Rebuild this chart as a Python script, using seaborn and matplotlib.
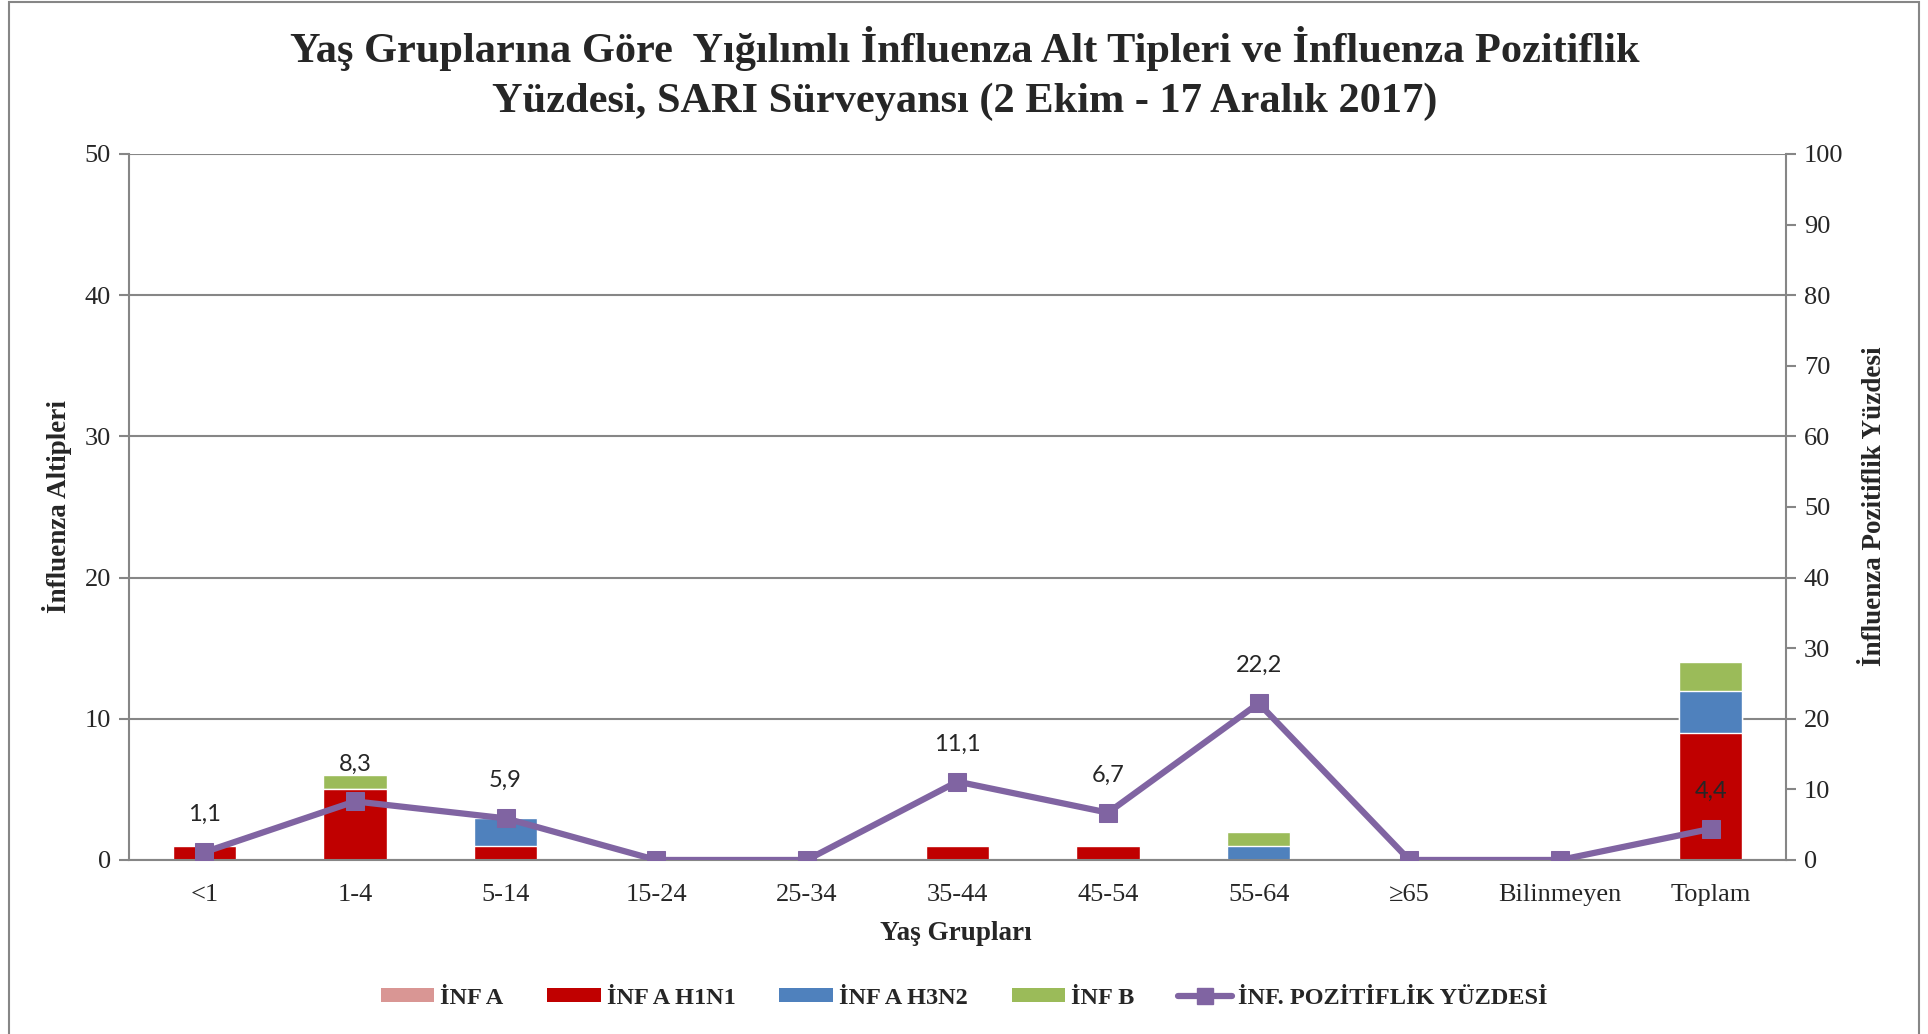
import numpy as np
import matplotlib
matplotlib.use('Agg')
import matplotlib.pyplot as plt
from matplotlib.lines import Line2D
from matplotlib.patches import Patch, Rectangle
import seaborn as sns

# data
groups = ['<1', '1-4', '5-14', '15-24', '25-34', '35-44', '45-54', '55-64', '≥65', 'Bilinmeyen', 'Toplam']
inf_a = [0, 0, 0, 0, 0, 0, 0, 0, 0, 0, 0]
inf_a_h1n1 = [1, 5, 1, 0, 0, 1, 1, 0, 0, 0, 9]
inf_a_h3n2 = [0, 0, 2, 0, 0, 0, 0, 1, 0, 0, 3]
inf_b = [0, 1, 0, 0, 0, 0, 0, 1, 0, 0, 2]
pozitiflik = [1.1, 8.3, 5.9, 0, 0, 11.1, 6.7, 22.2, 0, 0, 4.4]
pct_labels = {0: '1,1', 1: '8,3', 2: '5,9', 5: '11,1', 6: '6,7', 7: '22,2', 10: '4,4'}

series = ['İNF A', 'İNF A H1N1', 'İNF A H3N2', 'İNF B']
colors = ['#D99694', '#C00000', '#4F81BD', '#9BBB59']
line_color = '#8064A2'
grid_color = '#868686'

sns.set_style('white')
plt.rcParams['font.family'] = ['Liberation Serif', 'DejaVu Serif']

fig = plt.figure(figsize=(19.28, 10.34), dpi=100)
ax = fig.add_axes([0.0669, 0.1683, 0.8594, 0.6828])

# stacked bars: draw cumulative totals from the top layer down
stack = np.cumsum(np.array([inf_a, inf_a_h1n1, inf_a_h3n2, inf_b]), axis=0)
for i in range(len(series) - 1, -1, -1):
    sns.barplot(x=groups, y=stack[i], color=colors[i], width=0.42,
                saturation=1, errorbar=None, ax=ax, zorder=2)

ax.set_ylim(0, 50)
ax.set_yticks(range(0, 51, 10))
ax.set_xlim(-0.5, len(groups) - 0.5)
ax.yaxis.grid(True, color=grid_color, lw=1.5, zorder=0)
ax.set_axisbelow(True)
ax.set_xlabel('')
ax.set_ylabel('')
ax.tick_params(axis='x', length=0, labelsize=19, pad=17)
ax.set_xticks(np.arange(-0.5, len(groups)), minor=True)
ax.tick_params(axis='x', which='minor', length=9, width=1.5, color=grid_color, direction='out')
ax.tick_params(axis='y', length=7, width=1.5, color=grid_color, labelsize=19, pad=6)
for s in ['top', 'right']:
    ax.spines[s].set_visible(False)
for s in ['left', 'bottom']:
    ax.spines[s].set_color(grid_color)
    ax.spines[s].set_linewidth(1.5)

# positivity line on the secondary axis
ax2 = ax.twinx()
sns.lineplot(x=np.arange(len(groups)), y=pozitiflik, color=line_color, lw=4.5,
             marker='s', markersize=13, markeredgecolor=line_color, ax=ax2, zorder=5)
ax2.set_ylim(0, 100)
ax2.set_yticks(range(0, 101, 10))
ax2.set_ylabel('')
ax2.tick_params(axis='y', length=7, width=1.5, color=grid_color, labelsize=19, pad=6)
for s in ['top', 'left', 'bottom']:
    ax2.spines[s].set_visible(False)
ax2.spines['right'].set_color(grid_color)
ax2.spines['right'].set_linewidth(1.5)

for i, lab in pct_labels.items():
    ax2.annotate(lab, (i, pozitiflik[i]), xytext=(0, 27), textcoords='offset points',
                 ha='center', va='center', fontsize=17, family=['Lato', 'DejaVu Sans'])

# titles and axis labels
fig.text(0.5005, 0.9535, 'Yaş Gruplarına Göre  Yığılımlı İnfluenza Alt Tipleri ve İnfluenza Pozitiflik',
         ha='center', va='center', fontsize=30.5, fontweight='bold')
fig.text(0.5005, 0.9015, 'Yüzdesi, SARI Sürveyansı (2 Ekim - 17 Aralık 2017)',
         ha='center', va='center', fontsize=30.5, fontweight='bold')
fig.text(0.496, 0.0975, 'Yaş Grupları', ha='center', va='center', fontsize=19.5, fontweight='bold')
fig.text(0.0296, 0.51, 'İnfluenza Altipleri', ha='center', va='center', rotation=90,
         fontsize=19.5, fontweight='bold')
fig.text(0.972, 0.51, 'İnfluenza Pozitiflik Yüzdesi', ha='center', va='center', rotation=90,
         fontsize=19.5, fontweight='bold')

# legend
handles = [Patch(facecolor=c, edgecolor='none') for c in colors]
handles.append(Line2D([], [], color=line_color, lw=4.5, marker='s', markersize=11))
fig.legend(handles, series + ['İNF. POZİTİFLİK YÜZDESİ'], loc='center', bbox_to_anchor=(0.5, 0.0348),
           ncol=5, frameon=False, prop={'size': 17.5, 'weight': 'bold'},
           handlelength=2.2, handleheight=0.5, columnspacing=1.8, handletextpad=0.25)

# outer chart frame
fig.patches.append(Rectangle((0.0045, -0.1), 0.991, 1.098, transform=fig.transFigure,
                             fill=False, edgecolor=grid_color, lw=1.5))

fig.savefig('out.png', dpi=100)
